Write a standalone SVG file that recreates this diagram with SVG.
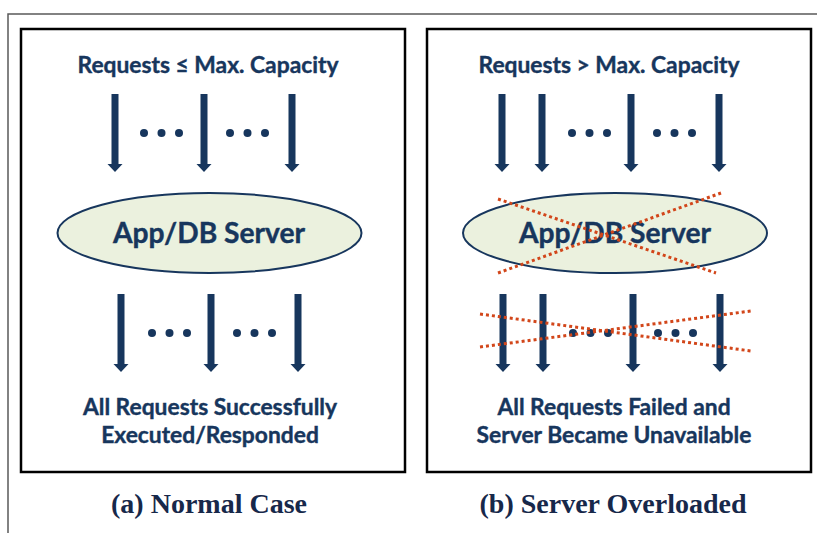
<svg xmlns="http://www.w3.org/2000/svg" xmlns:xlink="http://www.w3.org/1999/xlink" width="817" height="533" viewBox="0 0 817 533">
  <style>
    .frame { fill: none; stroke: #5a5a5a; stroke-width: 1.5; }
    .panel { fill: #ffffff; stroke: #000000; stroke-width: 2.5; }
    .server { fill: #ebf1de; stroke: #17365d; stroke-width: 2; }
    .lbl { font-family: Lato, "Open Sans", "Liberation Sans", sans-serif; font-weight: 700; fill: #17365d; stroke: #17365d; stroke-width: 0.4; text-anchor: middle; }
    .head { font-size: 22.8px; }
    .srv { font-size: 28.2px; }
    .cap { font-family: "Liberation Serif", "Times New Roman", serif; font-weight: 700; font-size: 28px; fill: #17284a; text-anchor: middle; }
    .arrow { fill: #17365d; }
    .dot { fill: #17365d; }
    .cross { fill: none; stroke: #d2461a; stroke-width: 3; stroke-dasharray: 3 3; }
  </style>
  <defs>
    <path id="arr" class="arrow" d="M -3.5 0 H 3.5 V 70 H 7.5 L 0 78 L -7.5 70 H -3.5 Z"/>
    <g id="dots3">
      <circle class="dot" cx="0" cy="0" r="4"/>
      <circle class="dot" cx="17.5" cy="0" r="4"/>
      <circle class="dot" cx="35" cy="0" r="4"/>
    </g>
  </defs>

  <rect width="817" height="533" fill="#ffffff"/>
  <!-- outer figure frame -->
  <path class="frame" d="M 8 533 V 14 H 817"/>

  <!-- (a) normal case -->
  <g id="panel-a">
    <rect class="panel" x="21" y="29" width="384" height="443"/>
    <text class="lbl head" x="208" y="73">Requests ≤ Max. Capacity</text>
    <text class="lbl head" x="210" y="415">All Requests Successfully</text>
    <text class="lbl head" x="210" y="443">Executed/Responded</text>
    <text class="cap" x="209" y="513">(a) Normal Case</text>
  </g>
  <g id="server-a">
    <ellipse class="server" cx="209.5" cy="233" rx="152" ry="40"/>
    <text class="lbl srv" x="209" y="243">App/DB Server</text>
  </g>

  <!-- (b) server overloaded -->
  <g id="panel-b">
    <rect class="panel" x="427" y="29" width="384" height="443"/>
    <text class="lbl head" x="609" y="73">Requests &gt; Max. Capacity</text>
    <text class="lbl head" x="614" y="415">All Requests Failed and</text>
    <text class="lbl head" x="614" y="443">Server Became Unavailable</text>
    <text class="cap" x="613" y="513">(b) Server Overloaded</text>
  </g>
  <g id="server-b">
    <ellipse class="server" cx="615" cy="233" rx="152" ry="40"/>
    <text class="lbl srv" x="615" y="243">App/DB Server</text>
  </g>

  <!-- request flows -->
  <g id="connectors">
    <!-- incoming, normal case -->
    <use xlink:href="#arr" x="115" y="94"/>
    <use xlink:href="#arr" x="204" y="94"/>
    <use xlink:href="#arr" x="292" y="94"/>
    <use xlink:href="#dots3" x="144" y="133"/>
    <use xlink:href="#dots3" x="230" y="133"/>
    <!-- outgoing, normal case -->
    <use xlink:href="#arr" x="121" y="294"/>
    <use xlink:href="#arr" x="211" y="294"/>
    <use xlink:href="#arr" x="298" y="294"/>
    <use xlink:href="#dots3" x="152" y="333"/>
    <use xlink:href="#dots3" x="237" y="333"/>
    <!-- incoming, overloaded -->
    <use xlink:href="#arr" x="502" y="94"/>
    <use xlink:href="#arr" x="542" y="94"/>
    <use xlink:href="#arr" x="631" y="94"/>
    <use xlink:href="#arr" x="719" y="94"/>
    <use xlink:href="#dots3" x="572" y="133"/>
    <use xlink:href="#dots3" x="657" y="133"/>
    <!-- outgoing, overloaded -->
    <use xlink:href="#arr" x="503" y="294"/>
    <use xlink:href="#arr" x="543" y="294"/>
    <use xlink:href="#arr" x="633" y="294"/>
    <use xlink:href="#arr" x="720" y="294"/>
    <use xlink:href="#dots3" x="573" y="333"/>
    <use xlink:href="#dots3" x="658" y="333"/>
  </g>

  <!-- failure marks -->
  <g id="failure-marks">
    <line class="cross" x1="498" y1="199" x2="716" y2="273"/>
    <line class="cross" x1="498" y1="273" x2="721" y2="193"/>
    <line class="cross" x1="480" y1="314" x2="751" y2="351"/>
    <line class="cross" x1="480" y1="347" x2="751" y2="311"/>
  </g>
</svg>
